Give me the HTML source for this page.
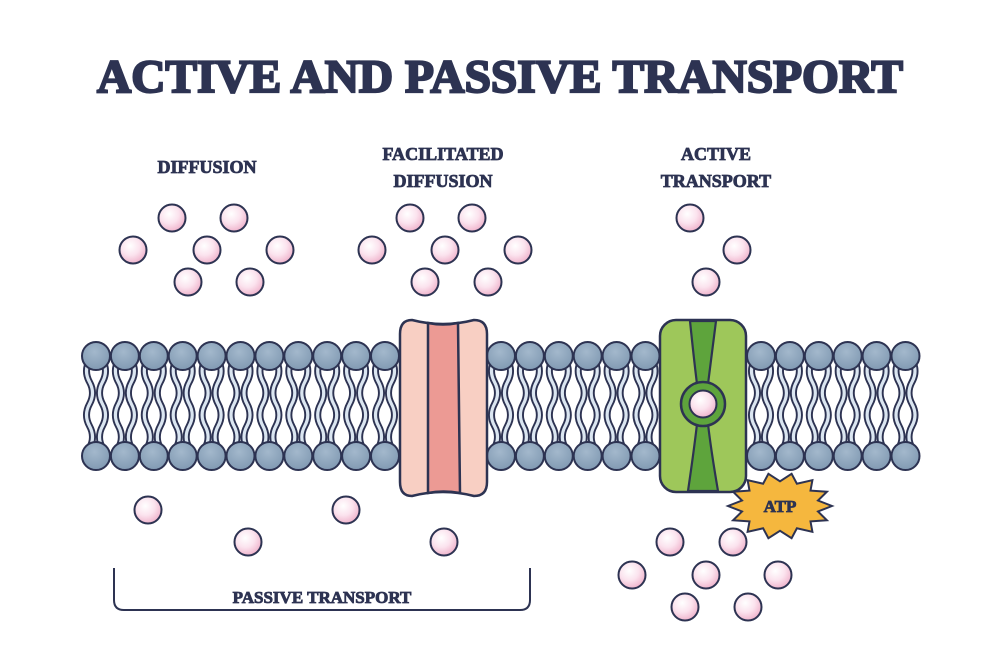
<!DOCTYPE html>
<html><head><meta charset="utf-8"><style>
html,body{margin:0;padding:0;background:#fff;}
svg{display:block}
text{font-family:"Liberation Serif",serif;font-weight:bold;fill:#2d3352;stroke:#2d3352;stroke-width:0.8}
</style></head><body>
<svg id="s" width="1000" height="667" viewBox="0 0 1000 667" xmlns="http://www.w3.org/2000/svg">
<defs>
<radialGradient id="pg" cx="0.4" cy="0.35" r="0.7"><stop offset="0" stop-color="#fff"/><stop offset="0.5" stop-color="#fbe3ee"/><stop offset="1" stop-color="#eeaec8"/></radialGradient>
<radialGradient id="hg" cx="0.45" cy="0.35" r="0.7"><stop offset="0" stop-color="#a3b8cc"/><stop offset="1" stop-color="#7f98b1"/></radialGradient>
</defs>
<text x="500" y="92" font-size="47" text-anchor="middle" textLength="806" lengthAdjust="spacingAndGlyphs" style="stroke-width:2.2">ACTIVE AND PASSIVE TRANSPORT</text>
<text x="207" y="173" font-size="18" text-anchor="middle">DIFFUSION</text>
<text x="443" y="160" font-size="18" text-anchor="middle">FACILITATED</text>
<text x="443" y="187" font-size="18" text-anchor="middle">DIFFUSION</text>
<text x="716" y="160" font-size="18" text-anchor="middle">ACTIVE</text>
<text x="716" y="187" font-size="18" text-anchor="middle">TRANSPORT</text>
<g id="lip"></g>
<path d="M412,320 Q443,328 474,320 Q487,320 487,334 L487,482 Q487,496 474,496 Q443,488 412,496 Q400,496 400,482 L400,334 Q400,320 412,320Z" fill="#f8cfc3" stroke="#2d3352" stroke-width="2.5"/>
<path d="M428,323 Q443,326 458,323 L460,493 Q443,490 428,493Z" fill="#ec9a94" stroke="#2d3352" stroke-width="2.5"/>
<rect x="660" y="320" width="86" height="172" rx="16" fill="#9ec75a" stroke="#2d3352" stroke-width="2.5"/>
<path d="M690,321 Q694,360 697,384 L708,384 Q711,360 716,321Z M697,424 Q694,450 688,491 L718,491 Q711,450 708,424Z" fill="#5ea43c" stroke="#2d3352" stroke-width="2.2"/>
<circle cx="703" cy="404" r="22" fill="#5ea43c" stroke="#2d3352" stroke-width="2.5"/>
<polygon id="star" fill="#f5b73e" stroke="#2d3352" stroke-width="2"/>
<text x="780" y="512" font-size="17" text-anchor="middle">ATP</text>
<path d="M114,568 L114,600 Q114,610 124,610 L520,610 Q530,610 530,600 L530,568" fill="none" stroke="#2d3352" stroke-width="2"/>
<text x="322" y="603" font-size="17" text-anchor="middle">PASSIVE TRANSPORT</text>
<g id="parts"></g>
</svg>
<script>
const NS="http://www.w3.org/2000/svg";
function el(p,t,a){const e=document.createElementNS(NS,t);for(const k in a)e.setAttribute(k,a[k]);p.appendChild(e);return e;}
const lip=document.getElementById('lip');
let xs=[];
for(let i=0;i<11;i++)xs.push(96+i*28.9);
for(let i=0;i<6;i++)xs.push(501+i*28.9);
for(let i=0;i<6;i++)xs.push(761+i*28.9);
xs.forEach(x=>{
 [-6.5,6.5].forEach(o=>{
  const s=o>0?1:-1;
  const d=`M${x+o},360 q${s*6},11 0,22 q${-s*6},11 0,22 q${s*6},11 0,22 q${-s*6},11 0,22`;
  el(lip,'path',{d,fill:'none',stroke:'#2d3352','stroke-width':7,'stroke-linecap':'round'});
  el(lip,'path',{d,fill:'none',stroke:'#dbe6f1','stroke-width':3.2,'stroke-linecap':'round'});
 });
});
xs.forEach(x=>{[356,456].forEach(y=>el(lip,'circle',{cx:x,cy:y,r:14,fill:'url(#hg)',stroke:'#2d3352','stroke-width':2}));});
const parts=document.getElementById('parts');
const P=[[172,218],[234,218],[133,250],[207,250],[280,250],[188,282],[250,282],
[410,218],[472,218],[372,250],[445,250],[518,250],[425,282],[488,282],
[690,218],[737,250],[706,282],
[148,510],[346,510],[248,542],[444,542],
[670,542],[733,542],[632,575],[706,575],[778,575],[685,607],[748,607],[703,404]];
P.forEach(([x,y])=>el(parts,'circle',{cx:x,cy:y,r:13.5,fill:'url(#pg)',stroke:'#2d3352','stroke-width':2}));
let pts=[];const cx=780,cy=506,n=14;
for(let i=0;i<n*2;i++){const a=Math.PI*i/n;const r=i%2?0.75:1;pts.push((cx+Math.cos(a)*r*52).toFixed(1)+','+(cy+Math.sin(a)*r*33).toFixed(1));}
document.getElementById('star').setAttribute('points',pts.join(' '));
</script>
</body></html>
